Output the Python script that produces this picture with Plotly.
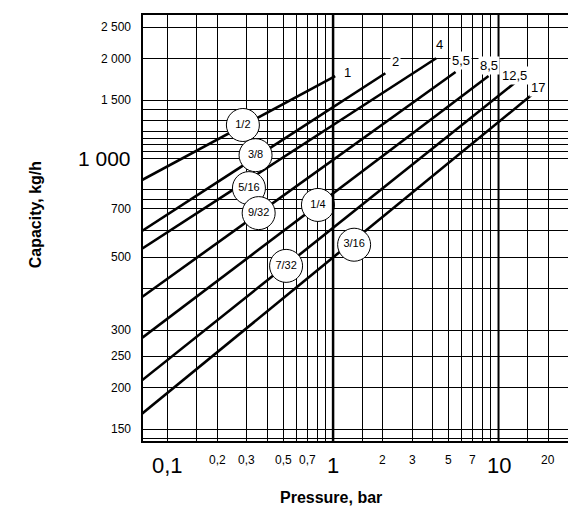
import plotly.graph_objects as go
import numpy as np

# Data
x_start = 0.07
line_labels = ["1", "2", "4", "5,5", "8,5", "12,5", "17"]
line_y_start = [857, 600, 530, 378, 284, 211, 167]
line_x_end = [1.03, 2.07, 4.2, 5.5, 8.7, 12.5, 17]
line_y_end = [1775, 1810, 2010, 1825, 1775, 1690, 1600]
label_x = [1.22, 2.4, 4.4, 5.9, 8.8, 12.5, 17.3]
label_y = [1815, 1960, 2220, 1980, 1910, 1780, 1640]

circle_labels = ["1/2", "3/8", "5/16", "9/32", "1/4", "3/16", "7/32"]
circle_x = [0.285, 0.34, 0.31, 0.355, 0.81, 1.34, 0.52]
circle_y = [1260, 1020, 810, 680, 720, 545, 470]

x_grid = [0.1, 0.15, 0.2, 0.3, 0.4, 0.5, 0.6, 0.7, 0.8, 0.9, 1, 1.5, 2, 3, 4, 5, 6, 7, 8, 9, 10, 15, 20]
y_grid = [140, 150, 200, 250, 300, 400, 500, 600, 700, 750, 800, 1000, 1050, 1100, 1150, 1200, 1300, 1400, 1500, 2000, 2500]

x_ticks = [0.1, 0.2, 0.3, 0.5, 0.7, 1, 2, 3, 5, 7, 10, 20]
x_tick_text = ["0,1", "0,2", "0,3", "0,5", "0,7", "1", "2", "3", "5", "7", "10", "20"]
x_big = ["0,1", "1", "10"]
y_ticks = [150, 200, 250, 300, 500, 700, 1000, 1500, 2000, 2500]
y_tick_text = ["150", "200", "250", "300", "500", "700", "1 000", "1 500", "2 000", "2 500"]

FONT = "Liberation Sans"
fig = go.Figure()
for lab, ys, xe, ye in zip(line_labels, line_y_start, line_x_end, line_y_end):
    fig.add_trace(go.Scatter(x=[x_start, xe], y=[ys, ye], mode="lines",
                             line=dict(color="black", width=2.6), showlegend=False, hoverinfo="skip"))
fig.add_trace(go.Scatter(x=circle_x, y=circle_y, mode="markers+text", text=circle_labels,
                         textposition="middle center",
                         textfont=dict(family=FONT, size=11, color="black"),
                         marker=dict(size=33, color="white", line=dict(color="black", width=1)),
                         showlegend=False, hoverinfo="skip"))

ann = []
for t, x, y in zip(line_labels, label_x, label_y):
    ann.append(dict(x=np.log10(x), y=np.log10(y), text=t, showarrow=False, bgcolor="white",
                    font=dict(family=FONT, size=13, color="black"), borderpad=1))
for v, t in zip(x_ticks, x_tick_text):
    big = t in x_big
    ann.append(dict(x=np.log10(v), y=-0.02, yref="paper", yanchor="top", text=t, showarrow=False,
                    font=dict(family=FONT, size=22 if big else 12, color="black")))
for v, t in zip(y_ticks, y_tick_text):
    big = t == "1 000"
    ann.append(dict(x=-0.02, xref="paper", xanchor="right", y=np.log10(v), text=t, showarrow=False,
                    font=dict(family=FONT, size=21 if big else 12, color="black")))
ann.append(dict(x=0.44, y=-0.13, xref="paper", yref="paper", yanchor="middle", text="<b>Pressure, bar</b>",
                showarrow=False, font=dict(family=FONT, size=16, color="black")))
ann.append(dict(x=-0.273, y=0.53, xref="paper", yref="paper", text="<b>Capacity, kg/h</b>", textangle=-90,
                showarrow=False, font=dict(family=FONT, size=16, color="black")))

shapes = [dict(type="line", xref="x", yref="paper", x0=1, x1=1, y0=0, y1=1, line=dict(color="black", width=2.5)),
          dict(type="line", xref="x", yref="paper", x0=10, x1=10, y0=0, y1=1, line=dict(color="black", width=2)),
          dict(type="rect", xref="paper", yref="paper", x0=0, x1=1, y0=0, y1=1, line=dict(color="black", width=2))]

fig.update_layout(width=576, height=518, margin=dict(l=134, r=12, t=6, b=84),
                  plot_bgcolor="white", paper_bgcolor="white", annotations=ann, shapes=shapes,
                  xaxis=dict(type="log", range=[np.log10(0.07), np.log10(27.8)], tickvals=x_grid,
                             showticklabels=False, showgrid=True, gridcolor="black", gridwidth=1, zeroline=False),
                  yaxis=dict(type="log", range=[np.log10(137), np.log10(2740)], tickvals=y_grid,
                             showticklabels=False, showgrid=True, gridcolor="black", gridwidth=1, zeroline=False))
fig.write_html("out.html")
